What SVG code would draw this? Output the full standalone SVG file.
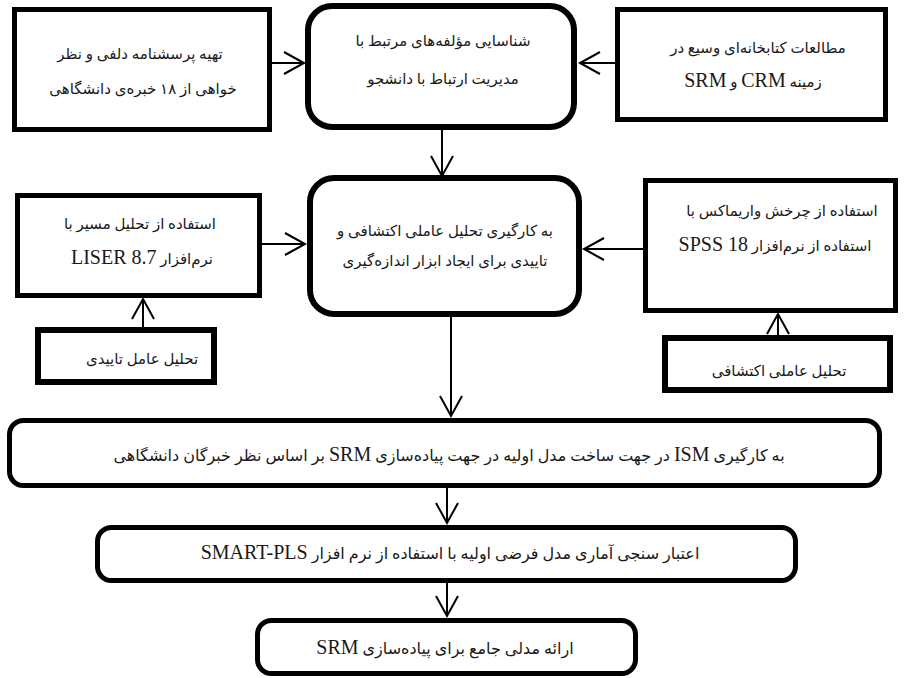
<svg xmlns="http://www.w3.org/2000/svg" width="904" height="678" viewBox="0 0 904 678">
<defs>
<style>
.box{fill:#fff;stroke:#000;stroke-width:5}
.rbox{fill:#fff;stroke:#000;stroke-width:6}
.t{font-family:'Liberation Serif','DejaVu Sans',serif;font-size:15px;direction:rtl;text-anchor:middle;fill:#1a1a1a}
.b{font-size:16px}
.lat{font-size:20px}
.con{fill:none;stroke:#000;stroke-width:2}
</style>
<marker id="arr" markerUnits="userSpaceOnUse" markerWidth="26" markerHeight="28" viewBox="-23 -14 26 28" refX="0" refY="0" orient="auto">
<path d="M-20,-11 L0,0 L-20,11" fill="none" stroke="#000" stroke-width="2"/>
</marker>
</defs>
<rect width="904" height="678" fill="#fff"/>
<g id="connectors">
<path class="con" d="M272,63 H304" marker-end="url(#arr)"/>
<path class="con" d="M615,63 H580" marker-end="url(#arr)"/>
<path class="con" d="M442,130 V176" marker-end="url(#arr)"/>
<path class="con" d="M262,244 H305" marker-end="url(#arr)"/>
<path class="con" d="M643,249 H584" marker-end="url(#arr)"/>
<path class="con" d="M143,327 V299" marker-end="url(#arr)"/>
<path class="con" d="M778,335 V314" marker-end="url(#arr)"/>
<path class="con" d="M451,317 V416" marker-end="url(#arr)"/>
<path class="con" d="M447,487 V523" marker-end="url(#arr)"/>
<path class="con" d="M447,583 V616" marker-end="url(#arr)"/>
</g>
<g id="delphi">
<rect class="box" x="14.5" y="9.5" width="255" height="120"/>
<text class="t" x="140" y="59">تهیه پرسشنامه دلفی و نظر</text>
<text class="t" x="143" y="94">خواهی از ۱۸ خبره‌ی دانشگاهی</text>
</g>
<g id="identify">
<rect class="rbox" x="308" y="6" width="266" height="121" rx="24"/>
<text class="t" x="443" y="46">شناسایی مؤلفه‌های مرتبط با</text>
<text class="t" x="443" y="84">مدیریت ارتباط با دانشجو</text>
</g>
<g id="library">
<rect class="box" x="617.5" y="9.5" width="268" height="110"/>
<text class="t" x="758" y="53">مطالعات کتابخانه‌ای وسیع در</text>
<text class="t" x="753" y="87">زمینه <tspan class="lat">CRM</tspan> و <tspan class="lat">SRM</tspan></text>
</g>
<g id="factor">
<rect class="rbox" x="310" y="178" width="269" height="136" rx="24"/>
<text class="t" x="445" y="236">به کارگیری تحلیل عاملی اکتشافی و</text>
<text class="t" x="445" y="266">تاییدی برای ایجاد ابزار اندازه‌گیری</text>
</g>
<g id="path-analysis">
<rect class="box" x="17.5" y="195.5" width="242" height="100"/>
<text class="t" x="140" y="229">استفاده از تحلیل مسیر با</text>
<text class="t" x="142" y="264">نرم‌افزار <tspan class="lat">LISER 8.7</tspan></text>
</g>
<g id="cfa">
<rect class="rbox" x="38" y="330" width="176" height="52"/>
<text class="t" x="142" y="364">تحلیل عامل تاییدی</text>
</g>
<g id="varimax">
<rect class="box" x="645.5" y="180.5" width="250" height="130"/>
<text class="t" x="782" y="216">استفاده از چرخش واریماکس با</text>
<text class="t" x="775" y="251">استفاده از نرم‌افزار <tspan class="lat">SPSS 18</tspan></text>
</g>
<g id="efa">
<rect class="rbox" x="665" y="338" width="225" height="52"/>
<text class="t" x="779" y="376">تحلیل عاملی اکتشافی</text>
</g>
<g id="ism">
<rect class="box" x="9.5" y="420.5" width="870" height="65" rx="14"/>
<text class="t b" x="449" y="461">به کارگیری <tspan class="lat">ISM</tspan> در جهت ساخت مدل اولیه در جهت پیاده‌سازی <tspan class="lat">SRM</tspan> بر اساس نظر خبرگان دانشگاهی</text>
</g>
<g id="validation">
<rect class="box" x="97.5" y="527.5" width="698" height="53" rx="14"/>
<text class="t b" x="450" y="559">اعتبار سنجی آماری مدل فرضی اولیه با استفاده از نرم افزار <tspan class="lat">SMART-PLS</tspan></text>
</g>
<g id="final">
<rect class="box" x="257.5" y="620.5" width="378" height="53" rx="14"/>
<text class="t b" x="445" y="654">ارائه مدلی جامع برای پیاده‌سازی <tspan class="lat">SRM</tspan></text>
</g>
</svg>
